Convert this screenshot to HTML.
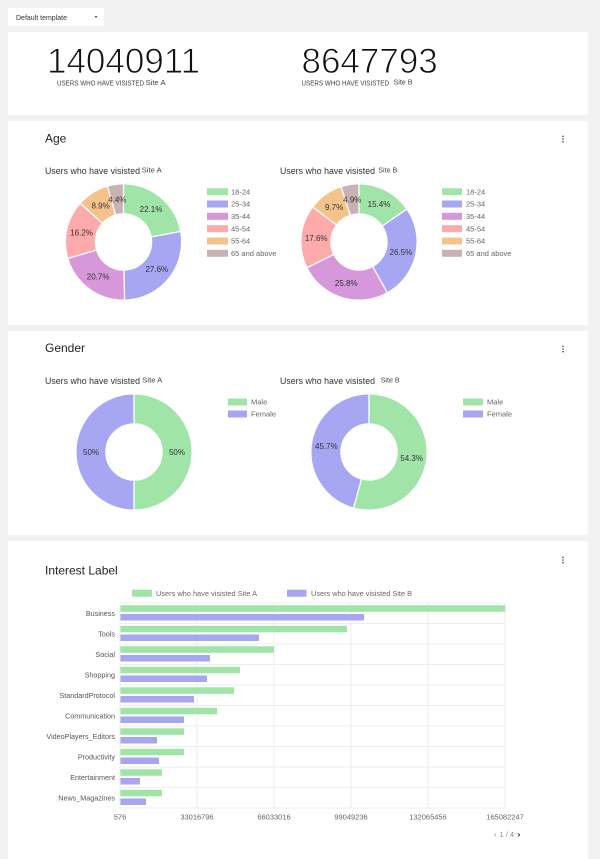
<!DOCTYPE html>
<html>
<head>
<meta charset="utf-8">
<style>
html,body{margin:0;padding:0;}
body{width:600px;height:859px;overflow:hidden;background:#f2f2f2;font-family:"Liberation Sans",Arial,sans-serif;}
svg{position:absolute;left:0;top:0;}
text{font-family:"Liberation Sans",Arial,sans-serif;}
</style>
</head>
<body>
<svg width="600" height="859" viewBox="0 0 600 859" xmlns="http://www.w3.org/2000/svg">
  <!-- cards -->
  <rect x="8" y="8" width="96" height="18" fill="#fff"/>
  <rect x="8" y="32" width="580" height="83" fill="#fff"/>
  <rect x="8" y="121" width="580" height="204" fill="#fff"/>
  <rect x="8" y="331" width="580" height="204" fill="#fff"/>
  <rect x="8" y="541" width="580" height="330" fill="#fff"/>

  <!-- dropdown -->
  <text x="16" y="20" font-size="7" fill="#333" textLength="51" lengthAdjust="spacingAndGlyphs">Default template</text>
  <polygon points="94.5,16 97.5,16 96,18" fill="#555"/>

  <!-- top numbers -->
  <text x="47" y="73" font-size="35" fill="#111" stroke="#fff" stroke-width="0.9">14040911</text>
  <text x="57" y="85.3" font-size="7" fill="#444" textLength="87" lengthAdjust="spacingAndGlyphs">USERS WHO HAVE VISISTED</text>
  <text x="145.6" y="85" font-size="7.5" fill="#444" textLength="20" lengthAdjust="spacingAndGlyphs">Site A</text>
  <text x="301.5" y="73" font-size="35" fill="#111" stroke="#fff" stroke-width="0.9">8647793</text>
  <text x="301.5" y="85.3" font-size="7" fill="#444" textLength="87.5" lengthAdjust="spacingAndGlyphs">USERS WHO HAVE VISISTED</text>
  <text x="393.5" y="84.3" font-size="7.5" fill="#444" textLength="19" lengthAdjust="spacingAndGlyphs">Site B</text>

  <!-- menu dots -->
  <g fill="#444">
    <circle cx="563" cy="136.3" r="0.8"/><circle cx="563" cy="139" r="0.8"/><circle cx="563" cy="141.7" r="0.8"/>
    <circle cx="563" cy="346.3" r="0.8"/><circle cx="563" cy="349" r="0.8"/><circle cx="563" cy="351.7" r="0.8"/>
    <circle cx="563" cy="557.3" r="0.8"/><circle cx="563" cy="560" r="0.8"/><circle cx="563" cy="562.7" r="0.8"/>
  </g>

  <!-- ================= AGE ================= -->
  <text x="45" y="142.7" font-size="12" fill="#222">Age</text>
  <text x="45" y="174" font-size="9" fill="#333" textLength="95" lengthAdjust="spacingAndGlyphs">Users who have visisted</text>
  <text x="141.7" y="172.5" font-size="7.5" fill="#444" textLength="20" lengthAdjust="spacingAndGlyphs">Site A</text>
  <text x="280" y="174" font-size="9" fill="#333" textLength="95" lengthAdjust="spacingAndGlyphs">Users who have visisted</text>
  <text x="378.3" y="172.5" font-size="7.5" fill="#444" textLength="19" lengthAdjust="spacingAndGlyphs">Site B</text>

  <!-- Age A donut -->
  <g transform="translate(123.5,242)">
    <g transform="rotate(-90)" fill="none" stroke-width="28.75">
      <circle r="43.125" stroke="#a0e4a8" stroke-dasharray="59.88 300" stroke-dashoffset="0"/>
      <circle r="43.125" stroke="#a6a6f2" stroke-dasharray="74.79 300" stroke-dashoffset="-59.88"/>
      <circle r="43.125" stroke="#d698da" stroke-dasharray="56.09 300" stroke-dashoffset="-134.67"/>
      <circle r="43.125" stroke="#fcaaaa" stroke-dasharray="43.90 300" stroke-dashoffset="-190.76"/>
      <circle r="43.125" stroke="#f4c38c" stroke-dasharray="24.12 300" stroke-dashoffset="-234.66"/>
      <circle r="43.125" stroke="#c9b2b4" stroke-dasharray="12.20 300" stroke-dashoffset="-258.78"/>
    </g>
    <g stroke="#fff" stroke-width="1.3">
      <line x1="0" y1="-28" x2="0" y2="-58.5"/>
      <line x1="0" y1="-28" x2="0" y2="-58.5" transform="rotate(79.56)"/>
      <line x1="0" y1="-28" x2="0" y2="-58.5" transform="rotate(178.92)"/>
      <line x1="0" y1="-28" x2="0" y2="-58.5" transform="rotate(253.44)"/>
      <line x1="0" y1="-28" x2="0" y2="-58.5" transform="rotate(311.76)"/>
      <line x1="0" y1="-28" x2="0" y2="-58.5" transform="rotate(343.8)"/>
    </g>
    <g font-size="8" fill="#333" text-anchor="middle">
      <g transform="rotate(39.78) translate(0,-43) rotate(-39.78)"><text y="3">22.1%</text></g>
      <g transform="rotate(129.24) translate(0,-43) rotate(-129.24)"><text y="3">27.6%</text></g>
      <g transform="rotate(216.18) translate(0,-43) rotate(-216.18)"><text y="3">20.7%</text></g>
      <g transform="rotate(282.6) translate(0,-43) rotate(-282.6)"><text y="3">16.2%</text></g>
      <g transform="rotate(327.78) translate(0,-43) rotate(-327.78)"><text y="3">8.9%</text></g>
      <g transform="rotate(351.7) translate(0,-43) rotate(-351.7)"><text y="3">4.4%</text></g>
    </g>
  </g>

  <!-- Age B donut -->
  <g transform="translate(359,242)">
    <g transform="rotate(-90)" fill="none" stroke-width="28.75">
      <circle r="43.125" stroke="#a0e4a8" stroke-dasharray="41.73 300" stroke-dashoffset="0"/>
      <circle r="43.125" stroke="#a6a6f2" stroke-dasharray="71.80 300" stroke-dashoffset="-41.73"/>
      <circle r="43.125" stroke="#d698da" stroke-dasharray="69.91 300" stroke-dashoffset="-113.53"/>
      <circle r="43.125" stroke="#fcaaaa" stroke-dasharray="47.69 300" stroke-dashoffset="-183.44"/>
      <circle r="43.125" stroke="#f4c38c" stroke-dasharray="26.28 300" stroke-dashoffset="-231.13"/>
      <circle r="43.125" stroke="#c9b2b4" stroke-dasharray="13.56 300" stroke-dashoffset="-257.41"/>
    </g>
    <g stroke="#fff" stroke-width="1.3">
      <line x1="0" y1="-28" x2="0" y2="-58.5"/>
      <line x1="0" y1="-28" x2="0" y2="-58.5" transform="rotate(55.44)"/>
      <line x1="0" y1="-28" x2="0" y2="-58.5" transform="rotate(150.84)"/>
      <line x1="0" y1="-28" x2="0" y2="-58.5" transform="rotate(243.72)"/>
      <line x1="0" y1="-28" x2="0" y2="-58.5" transform="rotate(307.08)"/>
      <line x1="0" y1="-28" x2="0" y2="-58.5" transform="rotate(342)"/>
    </g>
    <g font-size="8" fill="#333" text-anchor="middle">
      <g transform="rotate(27.72) translate(0,-43) rotate(-27.72)"><text y="3">15.4%</text></g>
      <g transform="rotate(103.14) translate(0,-43) rotate(-103.14)"><text y="3">26.5%</text></g>
      <g transform="rotate(197.28) translate(0,-43) rotate(-197.28)"><text y="3">25.8%</text></g>
      <g transform="rotate(275.4) translate(0,-43) rotate(-275.4)"><text y="3">17.6%</text></g>
      <g transform="rotate(324.54) translate(0,-43) rotate(-324.54)"><text y="3">9.7%</text></g>
      <g transform="rotate(351) translate(0,-43) rotate(-351)"><text y="3">4.9%</text></g>
    </g>
  </g>

  <!-- Age legends -->
  <g font-size="7.5" fill="#666">
    <rect x="207" y="188.2" width="21" height="7" fill="#a0e4a8"/><text x="231" y="194.4">18-24</text>
    <rect x="207" y="200.5" width="21" height="7" fill="#a6a6f2"/><text x="231" y="206.7">25-34</text>
    <rect x="207" y="212.8" width="21" height="7" fill="#d698da"/><text x="231" y="219">35-44</text>
    <rect x="207" y="225.2" width="21" height="7" fill="#fcaaaa"/><text x="231" y="231.4">45-54</text>
    <rect x="207" y="237.5" width="21" height="7" fill="#f4c38c"/><text x="231" y="243.7">55-64</text>
    <rect x="207" y="249.8" width="21" height="7" fill="#c9b2b4"/><text x="231" y="256">65 and above</text>

    <rect x="442" y="188.2" width="20" height="7" fill="#a0e4a8"/><text x="466" y="194.4">18-24</text>
    <rect x="442" y="200.5" width="20" height="7" fill="#a6a6f2"/><text x="466" y="206.7">25-34</text>
    <rect x="442" y="212.8" width="20" height="7" fill="#d698da"/><text x="466" y="219">35-44</text>
    <rect x="442" y="225.2" width="20" height="7" fill="#fcaaaa"/><text x="466" y="231.4">45-54</text>
    <rect x="442" y="237.5" width="20" height="7" fill="#f4c38c"/><text x="466" y="243.7">55-64</text>
    <rect x="442" y="249.8" width="20" height="7" fill="#c9b2b4"/><text x="466" y="256">65 and above</text>
  </g>

  <!-- ================= GENDER ================= -->
  <text x="45" y="352" font-size="12" fill="#222">Gender</text>
  <text x="45" y="384" font-size="9" fill="#333" textLength="95" lengthAdjust="spacingAndGlyphs">Users who have visisted</text>
  <text x="142.3" y="382.3" font-size="7.5" fill="#444" textLength="20" lengthAdjust="spacingAndGlyphs">Site A</text>
  <text x="280" y="384" font-size="9" fill="#333" textLength="95" lengthAdjust="spacingAndGlyphs">Users who have visisted</text>
  <text x="380.7" y="382.3" font-size="7.5" fill="#444" textLength="19" lengthAdjust="spacingAndGlyphs">Site B</text>

  <g transform="translate(134,452)">
    <g transform="rotate(-90)" fill="none" stroke-width="28.75">
      <circle r="43.125" stroke="#a0e4a8" stroke-dasharray="135.48 300" stroke-dashoffset="0"/>
      <circle r="43.125" stroke="#a6a6f2" stroke-dasharray="135.48 300" stroke-dashoffset="-135.48"/>
    </g>
    <g stroke="#fff" stroke-width="1.3">
      <line x1="0" y1="-28" x2="0" y2="-58.5"/>
      <line x1="0" y1="-28" x2="0" y2="-58.5" transform="rotate(180)"/>
    </g>
    <g font-size="8" fill="#333" text-anchor="middle">
      <text x="43" y="3">50%</text>
      <text x="-43" y="3">50%</text>
    </g>
  </g>

  <g transform="translate(369,452)">
    <g transform="rotate(-90)" fill="none" stroke-width="28.75">
      <circle r="43.125" stroke="#a0e4a8" stroke-dasharray="147.13 300" stroke-dashoffset="0"/>
      <circle r="43.125" stroke="#a6a6f2" stroke-dasharray="123.83 300" stroke-dashoffset="-147.13"/>
    </g>
    <g stroke="#fff" stroke-width="1.3">
      <line x1="0" y1="-28" x2="0" y2="-58.5"/>
      <line x1="0" y1="-28" x2="0" y2="-58.5" transform="rotate(195.48)"/>
    </g>
    <g font-size="8" fill="#333" text-anchor="middle">
      <g transform="rotate(97.74) translate(0,-43) rotate(-97.74)"><text y="3">54.3%</text></g>
      <g transform="rotate(277.74) translate(0,-43) rotate(-277.74)"><text y="3">45.7%</text></g>
    </g>
  </g>

  <g font-size="7.5" fill="#666">
    <rect x="228" y="398.5" width="19" height="7" fill="#a0e4a8"/><text x="251" y="404.7">Male</text>
    <rect x="228" y="410.5" width="19" height="7" fill="#a6a6f2"/><text x="251" y="416.7">Female</text>
    <rect x="463" y="398.5" width="20" height="7" fill="#a0e4a8"/><text x="487" y="404.7">Male</text>
    <rect x="463" y="410.5" width="20" height="7" fill="#a6a6f2"/><text x="487" y="416.7">Female</text>
  </g>

  <!-- ================= INTEREST ================= -->
  <text x="45" y="574.7" font-size="12" fill="#222">Interest Label</text>
  <rect x="132" y="589.7" width="20" height="7" fill="#a0e4a8"/>
  <text x="156" y="596" font-size="7.5" fill="#666" textLength="101" lengthAdjust="spacingAndGlyphs">Users who have visisted Site A</text>
  <rect x="287" y="589.7" width="19.5" height="7" fill="#a6a6f2"/>
  <text x="311" y="596" font-size="7.5" fill="#666" textLength="101" lengthAdjust="spacingAndGlyphs">Users who have visisted Site B</text>

  <!-- grid -->
  <g stroke="#e9e9e9" stroke-width="0.8">
    <line x1="120" y1="603" x2="120" y2="808"/>
    <line x1="197" y1="603" x2="197" y2="808"/>
    <line x1="274" y1="603" x2="274" y2="808"/>
    <line x1="351" y1="603" x2="351" y2="808"/>
    <line x1="428" y1="603" x2="428" y2="808"/>
    <line x1="505" y1="603" x2="505" y2="808"/>
    <line x1="120" y1="603" x2="505" y2="603"/>
    <line x1="120" y1="623.5" x2="505" y2="623.5"/>
    <line x1="120" y1="644" x2="505" y2="644"/>
    <line x1="120" y1="664.5" x2="505" y2="664.5"/>
    <line x1="120" y1="685" x2="505" y2="685"/>
    <line x1="120" y1="705.5" x2="505" y2="705.5"/>
    <line x1="120" y1="726" x2="505" y2="726"/>
    <line x1="120" y1="746.5" x2="505" y2="746.5"/>
    <line x1="120" y1="767" x2="505" y2="767"/>
    <line x1="120" y1="787.5" x2="505" y2="787.5"/>
    <line x1="120" y1="808" x2="505" y2="808"/>
  </g>

  <!-- bars -->
  <g fill="#a0e4a8">
    <rect x="120.5" y="605.3" width="384.5" height="6.5"/>
    <rect x="120.5" y="625.8" width="226.5" height="6.5"/>
    <rect x="120.5" y="646.3" width="153.5" height="6.5"/>
    <rect x="120.5" y="666.8" width="119.5" height="6.5"/>
    <rect x="120.5" y="687.3" width="113.5" height="6.5"/>
    <rect x="120.5" y="707.8" width="96.5" height="6.5"/>
    <rect x="120.5" y="728.3" width="63.5" height="6.5"/>
    <rect x="120.5" y="748.8" width="63.5" height="6.5"/>
    <rect x="120.5" y="769.3" width="41.5" height="6.5"/>
    <rect x="120.5" y="789.8" width="41.5" height="6.5"/>
  </g>
  <g fill="#a6a6f2">
    <rect x="120.5" y="614" width="243.5" height="6.5"/>
    <rect x="120.5" y="634.5" width="138.5" height="6.5"/>
    <rect x="120.5" y="655" width="89.5" height="6.5"/>
    <rect x="120.5" y="675.5" width="86.5" height="6.5"/>
    <rect x="120.5" y="696" width="73.5" height="6.5"/>
    <rect x="120.5" y="716.5" width="63.5" height="6.5"/>
    <rect x="120.5" y="737" width="36.5" height="6.5"/>
    <rect x="120.5" y="757.5" width="38.5" height="6.5"/>
    <rect x="120.5" y="778" width="19.5" height="6.5"/>
    <rect x="120.5" y="798.5" width="25.5" height="6.5"/>
  </g>

  <!-- category labels -->
  <g font-size="7.2" fill="#555" text-anchor="end">
    <text x="115" y="615.9">Business</text>
    <text x="115" y="636.4">Tools</text>
    <text x="115" y="656.9">Social</text>
    <text x="115" y="677.4">Shopping</text>
    <text x="115" y="697.9">StandardProtocol</text>
    <text x="115" y="718.4">Communication</text>
    <text x="115" y="738.9">VideoPlayers_Editors</text>
    <text x="115" y="759.4">Productivity</text>
    <text x="115" y="779.9">Entertainment</text>
    <text x="115" y="800.4">News_Magazines</text>
  </g>

  <!-- tick labels -->
  <g font-size="7.5" fill="#666" text-anchor="middle">
    <text x="120" y="819.7">576</text>
    <text x="197" y="819.7">33016796</text>
    <text x="274" y="819.7">66033016</text>
    <text x="351" y="819.7">99049236</text>
    <text x="428" y="819.7">132065456</text>
    <text x="505" y="819.7">165082247</text>
  </g>

  <!-- pagination -->
  <text x="494" y="837" font-size="8" fill="#999">‹</text>
  <text x="499.5" y="837" font-size="7.5" fill="#888">1 / 4</text>
  <text x="517.5" y="837" font-size="8.5" fill="#222" font-weight="bold">›</text>
</svg>
</body>
</html>
